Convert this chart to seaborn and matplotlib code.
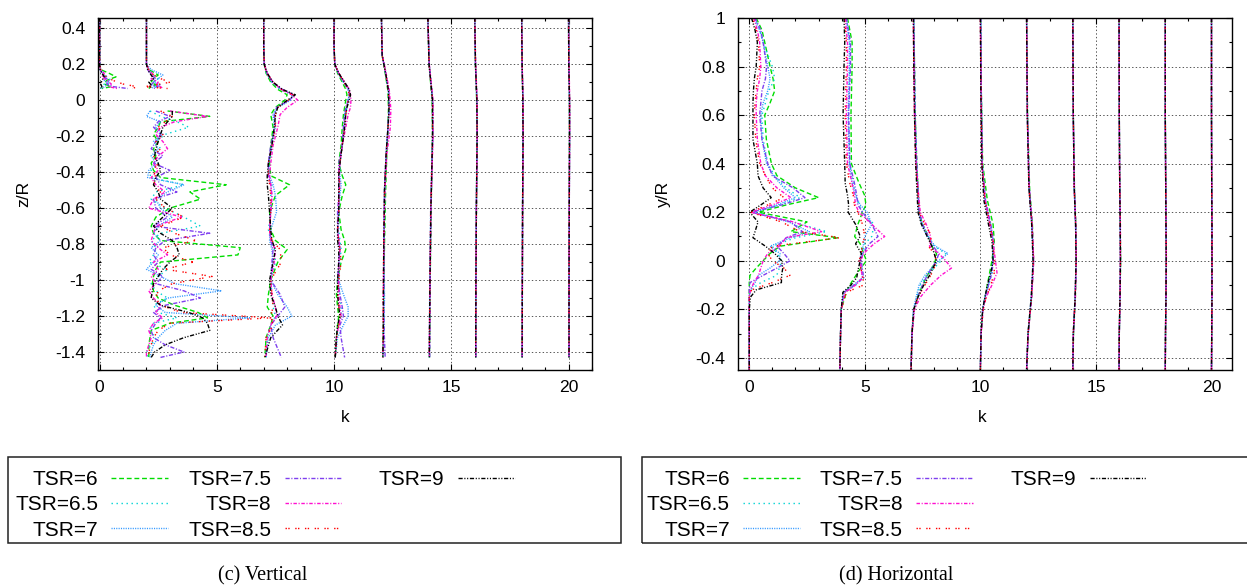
import numpy as np
import pandas as pd
import matplotlib
matplotlib.use("Agg")
import matplotlib.pyplot as plt
import seaborn as sns
from matplotlib.patches import Rectangle
from matplotlib.lines import Line2D
from matplotlib.ticker import MultipleLocator, FuncFormatter

# ------------------------------------------------------------------ series
TSR_KEYS = ["6", "6.5", "7", "7.5", "8", "8.5", "9"]
TSR_LABELS = ["TSR=" + k for k in TSR_KEYS]
COLORS = ["#00dd00", "#00d4d4", "#3399ff", "#7f3fef", "#ff10d0", "#ff0000", "#000000"]
DASHES = [(3.5, 2), (1, 2.6), (0.8, 0.9), (3, 1.2, 0.8, 1.2),
          (2.5, 1.2, 0.8, 1.2), (1, 1, 1, 4), (3, 1.2, 0.8, 1.2, 0.8, 1.2)]

# ------------------------------------------------------------------ (c) Vertical profiles
z_v0 = [0.46, 0.2, 0.17, 0.15, 0.13, 0.11, 0.09, 0.075, 0.065]
V0 = {
    "6":   [0, 0, 0.05, 0.4, 0.7, 0.3, 0.2, 0.5, 0.1],
    "6.5": [0, 0, 0.05, 0.2, 0.3, 0.5, 0.2, 0.1, 0.05],
    "7":   [0, 0, 0.02, 0.1, 0.3, 0.2, 0.4, 0.2, 0.1],
    "7.5": [0, 0, 0.03, 0.1, 0.2, 0.4, 0.3, 0.6, 1.2],
    "8":   [0, 0, 0.03, 0.2, 0.1, 0.3, 0.5, 0.4, 0.75],
    "8.5": [0, 0, 0.05, 0.05, 0.3, 0.57, 1.0, 1.6, 1.4],
    "9":   [0, 0, 0.02, 0.1, 0.2, 0.1, 0.05, 0.1, 0.05],
}

z_v2a = [0.46, 0.2, 0.17, 0.14, 0.12, 0.1, 0.085, 0.075, 0.065]
V2a = {
    "6":   [2, 2, 2.1, 2.5, 2.3, 2.2, 2.4, 2.2, 2.1],
    "6.5": [2, 2, 2.1, 2.3, 2.5, 2.3, 2.2, 2.4, 2.3],
    "7":   [2, 2, 2.2, 2.7, 2.5, 2.3, 2.6, 2.3, 2.2],
    "7.5": [2, 2, 2.05, 2.2, 2.4, 2.3, 2.2, 2.5, 2.3],
    "8":   [2, 2, 2.1, 2.3, 2.2, 2.5, 2.4, 2.6, 2.7],
    "8.5": [2, 2, 2.1, 2.3, 2.6, 3.0, 2.4, 1.9, 2.9],
    "9":   [2, 2, 2.05, 2.2, 2.3, 2.1, 2.2, 2.15, 2.1],
}

z_v2b = [-0.06, -0.09, -0.12, -0.15, -0.19, -0.23, -0.27, -0.31, -0.35, -0.39,
         -0.43, -0.47, -0.51, -0.55, -0.6, -0.65, -0.7, -0.74, -0.78, -0.82,
         -0.86, -0.9, -0.94, -0.98, -1.02, -1.06, -1.1, -1.14, -1.18, -1.21,
         -1.24, -1.28, -1.32, -1.36, -1.4, -1.43]
V2b = {
    "6":   [2.9, 4.7, 2.6, 2.5, 2.3, 2.5, 2.3, 2.4, 2.2, 2.3, 2.6, 5.4, 3.85, 4.3, 3.0, 2.4, 2.2, 2.3,
            2.6, 6.0, 5.9, 2.6, 2.4, 2.3, 2.25, 2.3, 2.5, 3.2, 4.2, 4.6, 3.0, 2.2, 2.15, 2.1, 2.1, 2.1],
    "6.5": [2.15, 2.6, 3.3, 3.8, 2.8, 2.4, 2.6, 2.3, 2.5, 2.2, 2.15, 3.6, 2.4, 2.2, 2.8, 3.6, 4.3, 2.6,
            2.2, 2.4, 2.3, 2.1, 2.9, 2.5, 2.2, 2.4, 2.9, 2.3, 2.5, 3.3, 2.3, 2.1, 2.4, 2.2, 2.0, 2.05],
    "7":   [2.15, 2.0, 2.6, 2.4, 2.7, 2.3, 2.5, 2.2, 2.4, 2.1, 2.05, 3.6, 2.9, 2.4, 2.6, 3.1, 2.5, 2.3,
            2.6, 2.2, 2.5, 2.3, 2.0, 2.6, 3.2, 5.2, 2.9, 2.4, 2.8, 6.4, 3.3, 2.8, 2.5, 2.3, 2.2, 2.15],
    "7.5": [2.4, 3.0, 2.5, 2.3, 2.6, 2.4, 2.2, 2.7, 2.3, 3.0, 2.4, 2.6, 3.3, 2.3, 2.4, 2.9, 2.3, 4.7,
            2.8, 2.4, 2.3, 2.5, 2.2, 2.7, 2.4, 3.6, 4.3, 2.8, 2.3, 2.6, 2.4, 2.2, 2.3, 2.8, 3.6, 2.6],
    "8":   [3.0, 4.6, 3.2, 2.6, 2.4, 2.7, 2.9, 2.5, 2.3, 2.5, 2.2, 2.4, 2.8, 2.3, 2.1, 3.5, 2.4, 2.3,
            2.2, 2.5, 2.9, 2.3, 2.5, 2.2, 2.4, 2.1, 2.3, 2.6, 2.4, 2.7, 2.3, 2.1, 2.2, 2.1, 2.0, 2.0],
    "8.5": [2.6, 3.1, 2.8, 2.5, 2.7, 2.4, 2.6, 2.3, 2.5, 2.3, 2.4, 2.3, 2.6, 2.4, 2.8, 3.6, 2.6, 3.2,
            4.1, 2.7, 3.0, 4.0, 2.8, 4.8, 3.1, 2.5, 2.4, 2.6, 3.5, 7.3, 3.0, 2.5, 2.3, 2.2, 2.1, 2.1],
    "9":   [3.1, 3.1, 2.9, 2.7, 2.6, 2.5, 2.4, 2.35, 2.5, 2.6, 2.4, 2.3, 2.5, 2.6, 3.1, 2.7, 2.3, 2.6,
            3.1, 3.3, 3.4, 3.0, 2.7, 2.5, 2.3, 2.25, 2.2, 2.6, 3.8, 4.4, 4.6, 4.7, 3.6, 2.8, 2.35, 2.2],
}

z_vm = [0.46, 0.3, 0.2, 0.15, 0.1, 0.06, 0.03, 0.0, -0.04, -0.08, -0.15, -0.25, -0.35, -0.42,
        -0.47, -0.53, -0.62, -0.72, -0.78, -0.83, -0.9, -1.0, -1.08, -1.15, -1.2, -1.25, -1.32, -1.43]
V7 = {
    "6":   [7.0, 7.0, 7.02, 7.1, 7.3, 7.6, 8.0, 7.9, 7.5, 7.3, 7.4, 7.3, 7.25, 7.3, 8.1, 7.5, 7.25, 7.3,
            7.5, 8.0, 7.6, 7.3, 7.2, 7.15, 7.4, 7.3, 7.1, 7.05],
    "6.5": [7.0, 7.0, 7.03, 7.12, 7.35, 7.7, 8.2, 8.1, 7.55, 7.45, 7.5, 7.35, 7.25, 7.2, 7.35, 7.3, 7.3,
            7.2, 7.3, 7.45, 7.5, 7.3, 7.35, 7.4, 7.5, 7.3, 7.15, 7.1],
    "7":   [7.0, 7.0, 7.03, 7.12, 7.35, 7.75, 8.25, 8.15, 7.6, 7.4, 7.45, 7.35, 7.2, 7.25, 7.4, 7.5, 7.55,
            7.3, 7.25, 7.35, 7.4, 7.3, 7.6, 8.0, 8.2, 7.5, 7.2, 7.1],
    "7.5": [7.0, 7.0, 7.02, 7.15, 7.38, 7.8, 8.3, 8.1, 7.55, 7.45, 7.5, 7.3, 7.2, 7.2, 7.3, 7.35, 7.3,
            7.25, 7.3, 7.4, 7.35, 7.3, 7.7, 7.9, 7.6, 7.3, 7.4, 7.75],
    "8":   [7.0, 7.0, 7.03, 7.15, 7.4, 7.75, 8.2, 8.45, 8.0, 7.7, 7.6, 7.4, 7.3, 7.25, 7.3, 7.35, 7.3,
            7.25, 7.3, 7.5, 7.45, 7.3, 7.35, 7.5, 7.55, 7.3, 7.15, 7.1],
    "8.5": [7.0, 7.0, 7.02, 7.12, 7.4, 7.75, 8.25, 8.05, 7.6, 7.5, 7.5, 7.35, 7.2, 7.2, 7.25, 7.3, 7.3,
            7.25, 7.35, 7.7, 7.75, 7.3, 7.35, 7.4, 7.3, 7.4, 7.1, 7.05],
    "9":   [7.0, 7.0, 7.02, 7.15, 7.4, 7.8, 8.35, 8.0, 7.6, 7.5, 7.45, 7.35, 7.2, 7.15, 7.15, 7.2, 7.25,
            7.3, 7.35, 7.5, 7.4, 7.25, 7.3, 7.5, 7.6, 7.8, 7.3, 7.05],
}
V10 = {
    "6":   [10.0, 10.0, 10.03, 10.15, 10.35, 10.5, 10.55, 10.5, 10.45, 10.4, 10.35, 10.3, 10.2, 10.35,
            10.5, 10.35, 10.2, 10.3, 10.45, 10.5, 10.3, 10.15, 10.1, 10.15, 10.2, 10.15, 10.1, 10.05],
    "6.5": [10.0, 10.0, 10.03, 10.18, 10.4, 10.6, 10.65, 10.6, 10.55, 10.45, 10.45, 10.35, 10.25, 10.2,
            10.25, 10.2, 10.2, 10.2, 10.25, 10.3, 10.25, 10.2, 10.25, 10.3, 10.3, 10.2, 10.1, 10.05],
    "7":   [10.0, 10.0, 10.03, 10.18, 10.4, 10.6, 10.65, 10.6, 10.55, 10.45, 10.45, 10.35, 10.25, 10.25,
            10.3, 10.25, 10.2, 10.15, 10.2, 10.25, 10.2, 10.2, 10.4, 10.6, 10.6, 10.4, 10.15, 10.05],
    "7.5": [10.0, 10.0, 10.03, 10.2, 10.42, 10.62, 10.65, 10.6, 10.5, 10.45, 10.4, 10.35, 10.2, 10.2,
            10.2, 10.2, 10.15, 10.15, 10.2, 10.25, 10.2, 10.15, 10.25, 10.35, 10.4, 10.25, 10.3, 10.45],
    "8":   [10.0, 10.0, 10.03, 10.2, 10.45, 10.65, 10.7, 10.72, 10.7, 10.6, 10.5, 10.35, 10.25, 10.2,
            10.25, 10.2, 10.2, 10.15, 10.2, 10.25, 10.2, 10.2, 10.2, 10.25, 10.3, 10.2, 10.1, 10.05],
    "8.5": [10.0, 10.0, 10.03, 10.2, 10.42, 10.6, 10.65, 10.6, 10.55, 10.5, 10.45, 10.35, 10.25, 10.2,
            10.25, 10.2, 10.2, 10.15, 10.2, 10.25, 10.3, 10.2, 10.15, 10.2, 10.25, 10.2, 10.1, 10.05],
    "9":   [10.0, 10.0, 10.03, 10.2, 10.45, 10.65, 10.7, 10.65, 10.55, 10.5, 10.45, 10.35, 10.25, 10.2,
            10.2, 10.2, 10.2, 10.15, 10.15, 10.2, 10.2, 10.15, 10.15, 10.2, 10.25, 10.15, 10.1, 10.05],
}

z_v12 = [0.46, 0.25, 0.15, 0.05, -0.05, -0.15, -0.3, -0.5, -0.8, -1.1, -1.3, -1.43]
V12 = {
    "6":   [12.02, 12.05, 12.18, 12.3, 12.32, 12.3, 12.25, 12.2, 12.15, 12.12, 12.1, 12.08],
    "6.5": [12.02, 12.06, 12.2, 12.33, 12.35, 12.3, 12.22, 12.17, 12.13, 12.12, 12.1, 12.08],
    "7":   [12.02, 12.05, 12.2, 12.32, 12.34, 12.3, 12.22, 12.15, 12.12, 12.15, 12.12, 12.1],
    "7.5": [12.02, 12.05, 12.2, 12.33, 12.35, 12.3, 12.22, 12.15, 12.13, 12.12, 12.14, 12.18],
    "8":   [12.02, 12.06, 12.22, 12.36, 12.42, 12.4, 12.25, 12.17, 12.12, 12.1, 12.1, 12.08],
    "8.5": [12.02, 12.05, 12.2, 12.32, 12.35, 12.3, 12.22, 12.15, 12.12, 12.1, 12.1, 12.08],
    "9":   [12.02, 12.05, 12.2, 12.32, 12.34, 12.3, 12.22, 12.15, 12.12, 12.1, 12.1, 12.08],
}

z_vf = [0.46, 0.2, 0.0, -0.2, -0.6, -1.0, -1.43]
V14 = {
    "6":   [14.0, 14.05, 14.18, 14.2, 14.14, 14.1, 14.07],
    "6.5": [14.0, 14.06, 14.21, 14.21, 14.13, 14.09, 14.06],
    "7":   [14.0, 14.05, 14.2, 14.2, 14.12, 14.08, 14.06],
    "7.5": [14.0, 14.06, 14.2, 14.21, 14.13, 14.1, 14.08],
    "8":   [14.0, 14.06, 14.22, 14.22, 14.13, 14.09, 14.06],
    "8.5": [14.0, 14.05, 14.2, 14.2, 14.12, 14.09, 14.06],
    "9":   [14.0, 14.05, 14.2, 14.2, 14.13, 14.09, 14.06],
}
V16 = {
    "6":   [16.0, 16.03, 16.08, 16.1, 16.07, 16.05, 16.04],
    "6.5": [16.0, 16.03, 16.09, 16.1, 16.07, 16.05, 16.04],
    "7":   [16.0, 16.03, 16.09, 16.1, 16.06, 16.05, 16.04],
    "7.5": [16.0, 16.03, 16.09, 16.11, 16.07, 16.05, 16.05],
    "8":   [16.0, 16.04, 16.1, 16.1, 16.07, 16.05, 16.04],
    "8.5": [16.0, 16.03, 16.09, 16.1, 16.07, 16.05, 16.04],
    "9":   [16.0, 16.03, 16.09, 16.1, 16.07, 16.05, 16.04],
}
V18 = {
    "6":   [18.0, 18.02, 18.05, 18.06, 18.04, 18.03, 18.02],
    "6.5": [18.0, 18.02, 18.05, 18.06, 18.04, 18.03, 18.02],
    "7":   [18.0, 18.02, 18.05, 18.06, 18.04, 18.03, 18.03],
    "7.5": [18.0, 18.02, 18.06, 18.06, 18.04, 18.03, 18.02],
    "8":   [18.0, 18.02, 18.06, 18.07, 18.04, 18.03, 18.02],
    "8.5": [18.0, 18.02, 18.05, 18.06, 18.04, 18.03, 18.02],
    "9":   [18.0, 18.02, 18.05, 18.06, 18.04, 18.03, 18.02],
}
V20 = {
    "6":   [20.0, 20.01, 20.04, 20.04, 20.03, 20.02, 20.02],
    "6.5": [20.0, 20.01, 20.04, 20.04, 20.03, 20.02, 20.02],
    "7":   [20.0, 20.01, 20.04, 20.05, 20.03, 20.02, 20.02],
    "7.5": [20.0, 20.01, 20.04, 20.04, 20.03, 20.02, 20.02],
    "8":   [20.0, 20.02, 20.05, 20.05, 20.03, 20.02, 20.02],
    "8.5": [20.0, 20.01, 20.04, 20.04, 20.03, 20.02, 20.02],
    "9":   [20.0, 20.01, 20.04, 20.04, 20.03, 20.02, 20.02],
}

# ------------------------------------------------------------------ (d) Horizontal profiles
z_h0 = [1.0, 0.95, 0.9, 0.8, 0.75, 0.7, 0.65, 0.6, 0.5, 0.4, 0.35, 0.3, 0.26, 0.23, 0.2,
        0.16, 0.12, 0.095, 0.06, 0.03, 0.0, -0.03, -0.06, -0.09, -0.12, -0.15, -0.2, -0.3, -0.45]
H0 = {
    "6":   [0.3, 0.55, 0.67, 0.9, 1.03, 1.1, 0.9, 0.67, 0.74, 0.96, 1.2, 2.0, 3.0, 1.6, 0.4,
            2.5, 1.8, 3.85, 1.33, 0.9, 0.6, 0.3, 0.03, 0.0, 0.0, 0.0, 0.0, 0.0, 0.0],
    "6.5": [0.25, 0.45, 0.6, 1.0, 1.1, 0.85, 0.7, 0.55, 0.6, 0.8, 1.1, 1.6, 2.2, 1.3, 0.2,
            1.9, 3.35, 2.0, 1.0, 1.2, 1.4, 1.3, 1.19, 0.5, 0.05, 0.0, 0.0, 0.0, 0.0],
    "7":   [0.2, 0.45, 0.6, 0.8, 0.9, 0.8, 0.6, 0.5, 0.55, 0.75, 1.05, 1.5, 2.0, 1.2, 0.15,
            1.7, 2.6, 1.8, 0.9, 1.33, 1.3, 0.9, 0.4, 0.25, 0.05, 0.0, 0.0, 0.0, 0.0],
    "7.5": [0.25, 0.5, 0.6, 0.75, 0.7, 0.55, 0.5, 0.45, 0.55, 0.8, 1.0, 1.9, 2.41, 1.4, 0.1,
            1.8, 2.3, 1.6, 1.2, 1.5, 1.76, 1.2, 0.6, 0.03, 0.0, 0.0, 0.0, 0.0, 0.0],
    "8":   [0.2, 0.35, 0.45, 0.5, 0.45, 0.35, 0.3, 0.3, 0.35, 0.5, 0.7, 1.2, 1.8, 1.0, 0.05,
            1.9, 3.13, 1.6, 1.3, 0.8, 0.6, 0.5, 0.4, 0.2, 0.05, 0.0, 0.0, 0.0, 0.0],
    "8.5": [0.15, 0.3, 0.4, 0.45, 0.35, 0.3, 0.25, 0.22, 0.28, 0.45, 0.7, 1.0, 1.5, 0.8, 0.05,
            1.4, 2.2, 3.92, 1.0, 0.8, 1.0, 1.5, 1.76, 1.0, 0.1, 0.0, 0.0, 0.0, 0.0],
    "9":   [0.1, 0.25, 0.35, 0.3, 0.22, 0.18, 0.16, 0.16, 0.16, 0.35, 0.38, 0.6, 0.95, 0.5, 0.02,
            0.38, 0.25, 0.16, 0.7, 1.1, 1.4, 1.45, 1.4, 1.39, 0.3, 0.05, 0.0, 0.0, 0.0],
}

z_h4 = [1.0, 0.9, 0.8, 0.6, 0.4, 0.32, 0.27, 0.23, 0.2, 0.15, 0.1, 0.07, 0.03, 0.0, -0.04,
        -0.07, -0.1, -0.13, -0.2, -0.3, -0.45]
H4 = {
    "6":   [4.25, 4.45, 4.45, 4.4, 4.42, 4.75, 4.99, 5.05, 4.9, 4.7, 4.56, 4.8, 4.95, 5.07, 4.75,
            4.55, 4.35, 4.2, 3.98, 3.95, 3.92],
    "6.5": [4.2, 4.35, 4.35, 4.3, 4.35, 4.5, 4.6, 4.75, 4.9, 5.4, 5.3, 5.0, 4.9, 4.8, 4.9,
            4.95, 4.6, 4.1, 3.98, 3.95, 3.92],
    "7":   [4.2, 4.33, 4.33, 4.28, 4.33, 4.45, 4.6, 4.8, 5.1, 5.3, 5.0, 4.95, 4.85, 4.75, 4.85,
            4.9, 4.5, 4.08, 3.98, 3.95, 3.92],
    "7.5": [4.2, 4.38, 4.38, 4.3, 4.35, 4.55, 4.65, 4.7, 4.9, 5.3, 5.57, 5.2, 4.9, 4.85, 4.9,
            4.95, 4.55, 4.1, 3.98, 3.95, 3.92],
    "8":   [4.15, 4.25, 4.25, 4.2, 4.25, 4.45, 4.55, 4.6, 4.75, 5.3, 5.86, 5.4, 4.95, 4.8, 4.85,
            4.9, 4.6, 4.15, 3.98, 3.95, 3.92],
    "8.5": [4.12, 4.2, 4.2, 4.15, 4.2, 4.35, 4.5, 4.55, 4.7, 4.9, 5.0, 4.9, 4.85, 4.75, 4.85,
            4.92, 4.95, 4.2, 3.98, 3.95, 3.92],
    "9":   [4.1, 4.13, 4.1, 4.06, 4.13, 4.15, 4.25, 4.3, 4.28, 4.6, 4.8, 4.6, 4.85, 4.8, 4.7,
            4.65, 4.4, 4.05, 3.98, 3.95, 3.92],
}

z_h7 = [1.0, 0.8, 0.6, 0.4, 0.3, 0.2, 0.15, 0.1, 0.06, 0.03, 0.0, -0.03, -0.06, -0.1, -0.15,
        -0.2, -0.3, -0.45]
H7 = {
    "6":   [7.12, 7.15, 7.18, 7.25, 7.3, 7.35, 7.5, 7.75, 7.9, 8.1, 8.05, 7.9, 7.7, 7.5, 7.28, 7.12, 7.04, 7.0],
    "6.5": [7.12, 7.14, 7.17, 7.24, 7.3, 7.35, 7.5, 7.75, 8.0, 8.5, 8.3, 8.0, 7.7, 7.4, 7.25, 7.12, 7.04, 7.0],
    "7":   [7.12, 7.14, 7.17, 7.23, 7.28, 7.33, 7.45, 7.7, 8.05, 8.6, 8.2, 7.9, 7.6, 7.35, 7.22, 7.1, 7.04, 7.0],
    "7.5": [7.12, 7.15, 7.18, 7.25, 7.3, 7.35, 7.5, 7.75, 7.95, 8.2, 8.1, 7.9, 7.7, 7.5, 7.28, 7.12, 7.04, 7.0],
    "8":   [7.1, 7.12, 7.15, 7.22, 7.3, 7.4, 7.66, 7.85, 7.8, 8.2, 8.5, 8.75, 8.3, 7.85, 7.4, 7.15, 7.05, 7.0],
    "8.5": [7.1, 7.12, 7.15, 7.2, 7.28, 7.35, 7.6, 7.9, 7.75, 8.0, 8.1, 8.0, 7.85, 7.6, 7.3, 7.12, 7.04, 7.0],
    "9":   [7.1, 7.12, 7.15, 7.2, 7.25, 7.3, 7.45, 7.7, 7.9, 8.0, 8.1, 7.95, 7.8, 7.55, 7.3, 7.12, 7.04, 7.0],
}

z_h10 = [1.0, 0.7, 0.4, 0.25, 0.15, 0.08, 0.0, -0.05, -0.1, -0.15, -0.2, -0.3, -0.45]
H10 = {
    "6":   [10.02, 10.04, 10.1, 10.3, 10.55, 10.6, 10.5, 10.4, 10.3, 10.2, 10.1, 10.03, 10.0],
    "6.5": [10.02, 10.04, 10.08, 10.2, 10.45, 10.55, 10.55, 10.5, 10.35, 10.2, 10.1, 10.03, 10.0],
    "7":   [10.02, 10.04, 10.08, 10.2, 10.42, 10.55, 10.55, 10.45, 10.35, 10.2, 10.1, 10.03, 10.0],
    "7.5": [10.02, 10.04, 10.08, 10.22, 10.45, 10.57, 10.55, 10.5, 10.35, 10.2, 10.1, 10.03, 10.0],
    "8":   [10.0, 10.03, 10.07, 10.2, 10.4, 10.55, 10.65, 10.72, 10.5, 10.25, 10.12, 10.03, 10.0],
    "8.5": [10.0, 10.03, 10.07, 10.2, 10.42, 10.55, 10.6, 10.6, 10.45, 10.25, 10.12, 10.03, 10.0],
    "9":   [10.0, 10.02, 10.06, 10.15, 10.35, 10.5, 10.55, 10.45, 10.3, 10.2, 10.1, 10.03, 10.0],
}

z_hf = [1.0, 0.6, 0.3, 0.15, 0.0, -0.15, -0.3, -0.45]
H12 = {
    "6":   [12.0, 12.04, 12.13, 12.25, 12.3, 12.22, 12.07, 12.0],
    "6.5": [12.0, 12.03, 12.11, 12.23, 12.29, 12.21, 12.06, 12.0],
    "7":   [12.0, 12.03, 12.1, 12.22, 12.28, 12.2, 12.06, 12.0],
    "7.5": [12.0, 12.04, 12.12, 12.24, 12.3, 12.21, 12.07, 12.0],
    "8":   [12.0, 12.03, 12.11, 12.24, 12.31, 12.22, 12.07, 12.0],
    "8.5": [12.0, 12.03, 12.1, 12.23, 12.29, 12.21, 12.06, 12.0],
    "9":   [12.0, 12.03, 12.1, 12.22, 12.28, 12.2, 12.06, 12.0],
}
H14 = {
    "6":   [14.0, 14.02, 14.07, 14.13, 14.15, 14.11, 14.03, 14.0],
    "6.5": [14.0, 14.02, 14.06, 14.12, 14.14, 14.1, 14.02, 14.0],
    "7":   [14.0, 14.02, 14.06, 14.12, 14.14, 14.1, 14.02, 14.0],
    "7.5": [14.0, 14.02, 14.07, 14.12, 14.15, 14.1, 14.03, 14.0],
    "8":   [14.0, 14.02, 14.06, 14.13, 14.15, 14.11, 14.02, 14.0],
    "8.5": [14.0, 14.02, 14.06, 14.12, 14.14, 14.1, 14.02, 14.0],
    "9":   [14.0, 14.02, 14.06, 14.12, 14.14, 14.1, 14.02, 14.0],
}
H16 = {
    "6":   [16.0, 16.01, 16.03, 16.05, 16.07, 16.04, 16.01, 16.0],
    "6.5": [16.0, 16.01, 16.03, 16.05, 16.06, 16.04, 16.01, 16.0],
    "7":   [16.0, 16.01, 16.03, 16.05, 16.06, 16.04, 16.01, 16.0],
    "7.5": [16.0, 16.01, 16.03, 16.05, 16.06, 16.05, 16.01, 16.0],
    "8":   [16.0, 16.01, 16.03, 16.06, 16.06, 16.04, 16.01, 16.0],
    "8.5": [16.0, 16.01, 16.03, 16.05, 16.06, 16.04, 16.01, 16.0],
    "9":   [16.0, 16.01, 16.03, 16.05, 16.06, 16.04, 16.01, 16.0],
}
H18 = {
    "6":   [18.0, 18.0, 18.02, 18.03, 18.04, 18.03, 18.01, 18.0],
    "6.5": [18.0, 18.0, 18.02, 18.03, 18.04, 18.03, 18.01, 18.0],
    "7":   [18.0, 18.0, 18.02, 18.03, 18.04, 18.03, 18.01, 18.0],
    "7.5": [18.0, 18.0, 18.02, 18.04, 18.04, 18.03, 18.01, 18.0],
    "8":   [18.0, 18.0, 18.02, 18.03, 18.05, 18.03, 18.01, 18.0],
    "8.5": [18.0, 18.0, 18.02, 18.03, 18.04, 18.03, 18.01, 18.0],
    "9":   [18.0, 18.0, 18.02, 18.03, 18.04, 18.03, 18.01, 18.0],
}
H20 = {
    "6":   [20.0, 20.0, 20.01, 20.02, 20.03, 20.02, 20.01, 20.0],
    "6.5": [20.0, 20.0, 20.01, 20.02, 20.02, 20.02, 20.01, 20.0],
    "7":   [20.0, 20.0, 20.01, 20.02, 20.02, 20.02, 20.01, 20.0],
    "7.5": [20.0, 20.0, 20.01, 20.02, 20.02, 20.02, 20.01, 20.0],
    "8":   [20.0, 20.0, 20.01, 20.02, 20.03, 20.02, 20.01, 20.0],
    "8.5": [20.0, 20.0, 20.01, 20.02, 20.02, 20.02, 20.01, 20.0],
    "9":   [20.0, 20.0, 20.01, 20.02, 20.02, 20.02, 20.01, 20.0],
}

VERT_STATIONS = [("0", z_v0, V0), ("2a", z_v2a, V2a), ("2b", z_v2b, V2b), ("7", z_vm, V7),
                 ("10", z_vm, V10), ("12", z_v12, V12), ("14", z_vf, V14), ("16", z_vf, V16),
                 ("18", z_vf, V18), ("20", z_vf, V20)]
HORIZ_STATIONS = [("0", z_h0, H0), ("4", z_h4, H4), ("7", z_h7, H7), ("10", z_h10, H10),
                  ("12", z_hf, H12), ("14", z_hf, H14), ("16", z_hf, H16), ("18", z_hf, H18),
                  ("20", z_hf, H20)]


def build(stations):
    rows = []
    for name, zs, kd in stations:
        for key, lab in zip(TSR_KEYS, TSR_LABELS):
            ks = kd[key]
            assert len(ks) == len(zs), (name, key, len(ks), len(zs))
            for i, (kk, zz) in enumerate(zip(ks, zs)):
                rows.append({"unit": name, "series": lab, "i": i, "k": kk, "pos": zz})
    return pd.DataFrame(rows)


df_v = build(VERT_STATIONS)
df_h = build(HORIZ_STATIONS)

# ------------------------------------------------------------------ style
plt.rcParams["font.family"] = ["Liberation Sans", "DejaVu Sans"]
plt.rcParams["axes.unicode_minus"] = False
plt.rcParams["lines.scale_dashes"] = False

W, H = 1247, 586
fig = plt.figure(figsize=(W / 100, H / 100), dpi=100)


def frect(l, t, r, b):
    return [l / W, 1 - b / H, (r - l) / W, (b - t) / H]


axL = fig.add_axes(frect(97.7, 18, 592, 370))
axR = fig.add_axes(frect(737.7, 18, 1232.3, 370))

palette = dict(zip(TSR_LABELS, COLORS))
dashes = dict(zip(TSR_LABELS, DASHES))
LW = 1.0


def fmt(v, _):
    if abs(v) < 1e-9:
        return "0"
    return f"{round(v, 6):g}"


for ax, df, ylab, xlim, ylim, kx in [
        (axL, df_v, "z/R", (-0.08, 21.0), (-1.5, 0.457), 0.5),
        (axR, df_h, "y/R", (-0.5, 20.9), (-0.45, 1.0), 0.495)]:
    ax.set_axisbelow(True)
    sns.lineplot(data=df, x="k", y="pos", hue="series", style="series", units="unit",
                 estimator=None, sort=False, hue_order=TSR_LABELS, style_order=TSR_LABELS,
                 palette=palette, dashes=dashes, linewidth=LW, legend=False, ax=ax)
    ax.set_xlim(*xlim)
    ax.set_ylim(*ylim)
    ax.xaxis.set_major_locator(MultipleLocator(5))
    ax.xaxis.set_minor_locator(MultipleLocator(1))
    ax.yaxis.set_major_locator(MultipleLocator(0.2))
    ax.yaxis.set_minor_locator(MultipleLocator(0.1))
    ax.xaxis.set_major_formatter(FuncFormatter(fmt))
    ax.yaxis.set_major_formatter(FuncFormatter(fmt))
    ax.tick_params(which="both", direction="in", top=True, right=True, width=0.8,
                   colors="black", labelsize=12.6)
    ax.tick_params(which="major", length=4.5)
    ax.tick_params(which="minor", length=2.3)
    ax.tick_params(axis="y", which="major", pad=9)
    ax.tick_params(axis="x", which="major", pad=7.2)
    ax.grid(True, which="major", color="#555555", linestyle=(0, (1, 1.6)), linewidth=0.7)
    for s in ax.spines.values():
        s.set_linewidth(1.0)
        s.set_color("black")
    ax.set_xlabel("k", fontsize=12.6)
    ax.set_ylabel(ylab, fontsize=12.6)
    ax.xaxis.set_label_coords(kx, -0.1125)
    ax.yaxis.set_label_coords(-0.135, 0.5)

# ------------------------------------------------------------------ legends
handles = [Line2D([], [], color=c, lw=LW, dashes=d) for c, d in zip(COLORS, DASHES)]
handles.append(Line2D([], [], color="none"))
labels = TSR_LABELS + ["TSR=9.0"]
for x0 in (15, 646.7):
    leg = fig.legend(handles, labels, loc="upper left", bbox_to_anchor=(x0 / W, 1 - 470 / H),
                     ncol=3, markerfirst=False, frameon=False, borderpad=0, borderaxespad=0,
                     fontsize=15, handlelength=2.73, handletextpad=0.64, columnspacing=0.96,
                     labelspacing=0.3)
    leg.get_texts()[-1].set_color("none")

for l, r in ((8, 621), (641.7, 1260)):
    fig.add_artist(Rectangle((l / W, 1 - 542.7 / H), (r - l) / W, (542.7 - 457) / H,
                             transform=fig.transFigure, fill=False, lw=1.1, ec="#222222"))

fig.text(262.8 / W, 1 - 576 / H, "(c) Vertical", ha="center", va="center",
         family="Liberation Serif", fontsize=14.5)
fig.text(896.3 / W, 1 - 576 / H, "(d) Horizontal", ha="center", va="center",
         family="Liberation Serif", fontsize=14.5)

fig.savefig("out.png", dpi=100)
